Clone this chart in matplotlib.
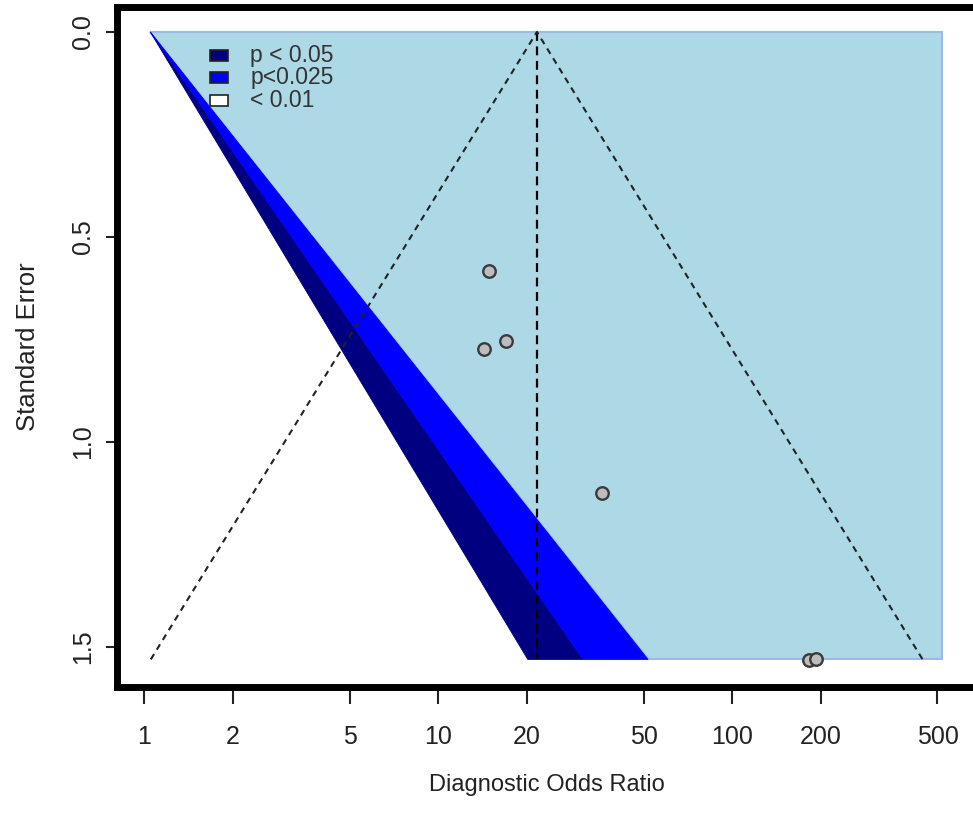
import matplotlib.pyplot as plt
from matplotlib.patches import Polygon, Rectangle

plt.rcParams['font.family'] = ['Liberation Sans Narrow', 'Liberation Sans', 'DejaVu Sans']

# studies: diagnostic odds ratio and standard error
dor = [14.9, 14.3, 17.0, 36.0, 183, 193]
se = [0.582, 0.774, 0.754, 1.125, 1.532, 1.529]

# funnel / contour geometry
se_max = 1.53
summary_dor = 21.7
funnel_bottom = [1.054, 445]
contour_apex = 1.05
contour_bottom = [20.2, 31.1, 51.8]   # navy left edge, navy/blue, blue/lightblue
region_right = 518

xticks = [1, 2, 5, 10, 20, 50, 100, 200, 500]
yticks = [0.0, 0.5, 1.0, 1.5]
legend_labels = ["p < 0.05", "p<0.025", "< 0.01"]
legend_colors = ["#000080", "#0000FF", "white"]

fig = plt.figure(figsize=(9.73, 8.17), dpi=100)
ax = fig.add_axes([117 / 973, 1 - 686.5 / 817, 859 / 973, 680 / 817])
ax.set_xscale('log')

# light blue region
ax.add_patch(Polygon([(contour_apex, 0), (region_right, 0), (region_right, se_max),
                      (contour_bottom[2], se_max)],
                     closed=True, facecolor='#ADD8E6', edgecolor='#9DB9E8', lw=1.5, zorder=1))
# contour bands
ax.add_patch(Polygon([(contour_apex, 0), (contour_bottom[0], se_max), (contour_bottom[1], se_max)],
                     closed=True, facecolor='#000080', edgecolor='#000080', lw=0.6, zorder=2))
ax.add_patch(Polygon([(contour_apex, 0), (contour_bottom[1], se_max), (contour_bottom[2], se_max)],
                     closed=True, facecolor='#0000FF', edgecolor='#0000FF', lw=0.6, zorder=2))

# funnel lines
ax.plot([summary_dor, summary_dor], [0, se_max], ls=(0, (4, 2.5)), color='black', lw=1.6, zorder=3)
ax.plot([funnel_bottom[0], summary_dor, funnel_bottom[1]], [se_max, 0, se_max],
        ls=(0, (3, 2.5)), color='#222222', lw=1.5, zorder=3)

# studies
ax.plot(dor, se, 'o', ms=9, mfc='#BDBDBD', mec='#3a3a3a', mew=1.7, zorder=4)

ax.set_xlim(0.809, 676)
ax.set_ylim(1.596, -0.062)

ax.set_xticks(xticks)
ax.set_xticklabels([str(t) for t in xticks])
ax.minorticks_off()
ax.set_yticks(yticks)
ax.set_yticklabels([f"{t:.1f}" for t in yticks], rotation=90, va='center')
ax.tick_params(axis='x', length=12, width=1.5, pad=16, labelsize=18, colors='#222222')
ax.tick_params(axis='y', length=8, width=1.5, pad=8, labelsize=18, colors='#222222')

for s in ax.spines.values():
    s.set_linewidth(5)

ax.set_xlabel("Diagnostic Odds Ratio", fontsize=17, color='#222222', labelpad=18)
ax.set_ylabel("Standard Error", fontsize=18.5, color='#222222', labelpad=22)

# legend drawn by hand in axes coordinates
for i, (lab, col) in enumerate(zip(legend_labels, legend_colors)):
    y = 0.928 - i * 0.033
    ax.add_patch(Rectangle((0.108, y - 0.008), 0.021, 0.016, transform=ax.transAxes,
                           facecolor=col, edgecolor='#222222', lw=1.2, zorder=5))
    ax.text(0.155, y, lab, transform=ax.transAxes, fontsize=16.5, va='center',
            color='#333333', zorder=5)

fig.savefig("out.png", dpi=100)
